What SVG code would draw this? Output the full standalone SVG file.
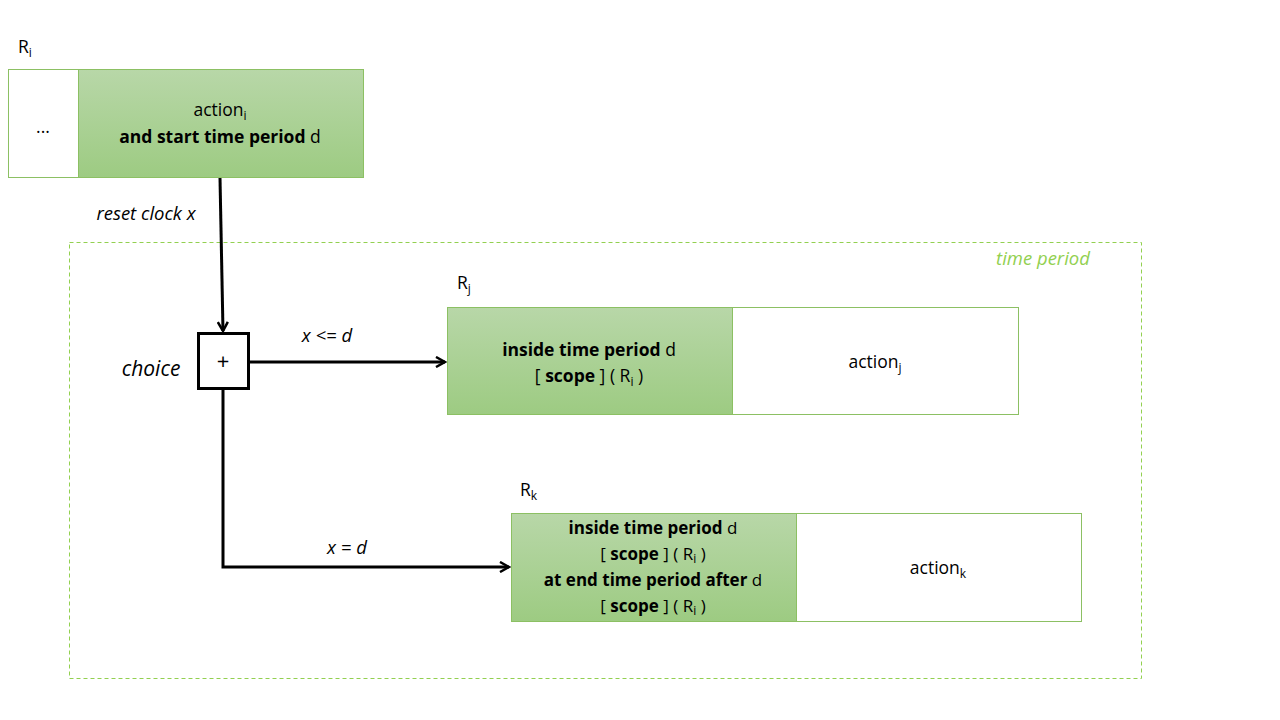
<svg xmlns="http://www.w3.org/2000/svg" width="1280" height="720" viewBox="0 0 1280 720">
<defs>
<linearGradient id="g" x1="0" y1="0" x2="0" y2="1">
<stop offset="0" stop-color="#b8d7a8"/>
<stop offset="1" stop-color="#9dcb82"/>
</linearGradient>
<marker id="arr" markerWidth="12" markerHeight="12" refX="10" refY="6" orient="auto" markerUnits="userSpaceOnUse">
<path d="M1,1 L10,6 L1,11" fill="none" stroke="#000" stroke-width="2.5"/>
</marker>
</defs>
<style>
text{font-family:"Open Sans","Liberation Sans",Arial,sans-serif;font-size:17.5px;fill:#000}
.c{text-anchor:middle}
.b{font-weight:bold}
.i{font-style:italic}
.lab{font-size:18.5px}
.sub{font-size:12px}
.k{font-size:17px}
.green{fill:url(#g);stroke:#8cc063;stroke-width:1}
.white{fill:#fff;stroke:#8cc063;stroke-width:1}
.conn{fill:none;stroke:#000;stroke-width:3}
</style>
<rect width="1280" height="720" fill="#fff"/>

<g id="period">
<rect x="69.5" y="242.5" width="1072" height="436" fill="none" stroke="#92d050" stroke-width="1" stroke-dasharray="4,3"/>
<text x="1043" y="265" class="c i" style="fill:#92d050;font-size:18.5px">time period</text>
</g>

<g id="Ri">
<text x="18" y="53">R<tspan class="sub" dy="4">i</tspan></text>
<rect class="white" x="8.5" y="69.5" width="70" height="108"/>
<text x="43" y="133" class="c">...</text>
<rect class="green" x="78.5" y="69.5" width="285" height="108"/>
<text x="220" y="116" class="c">action<tspan class="sub" dy="4">i</tspan></text>
<text x="220" y="143" class="c"><tspan class="b">and start time period</tspan> d</text>
</g>

<g id="choice">
<rect x="198.5" y="333.5" width="50" height="55" fill="#fff" stroke="#000" stroke-width="3"/>
<text x="223" y="369" class="c" style="font-size:22px">+</text>
<text x="151" y="376" class="c i" style="font-size:21px">choice</text>
</g>

<g id="Rj">
<text x="457" y="289">R<tspan class="sub" dy="4">j</tspan></text>
<rect class="green" x="447.5" y="307.5" width="285" height="107"/>
<rect class="white" x="732.5" y="307.5" width="286" height="107"/>
<text x="589" y="356" class="c"><tspan class="b">inside time period</tspan> d</text>
<text x="589" y="382" class="c">[ <tspan class="b">scope</tspan> ] ( R<tspan class="sub" dy="4">i</tspan><tspan dy="-4"> )</tspan></text>
<text x="875" y="368" class="c">action<tspan class="sub" dy="4">j</tspan></text>
</g>

<g id="Rk">
<text x="520" y="496">R<tspan class="sub" dy="4">k</tspan></text>
<rect class="green" x="511.5" y="513.5" width="285" height="108"/>
<rect class="white" x="796.5" y="513.5" width="285" height="108"/>
<text x="653" y="534" class="c k"><tspan class="b">inside time period</tspan> d</text>
<text x="653" y="560" class="c k">[ <tspan class="b">scope</tspan> ] ( R<tspan class="sub" dy="2.5">i</tspan><tspan dy="-2.5"> )</tspan></text>
<text x="653" y="586" class="c k"><tspan class="b">at end time period after</tspan> d</text>
<text x="653" y="612" class="c k">[ <tspan class="b">scope</tspan> ] ( R<tspan class="sub" dy="2.5">i</tspan><tspan dy="-2.5"> )</tspan></text>
<text x="938" y="574" class="c">action<tspan class="sub" dy="4">k</tspan></text>
</g>

<g id="connectors">
<path class="conn" d="M220,178 L223,331" marker-end="url(#arr)"/>
<text x="146" y="220" class="c i lab">reset clock x</text>
<path class="conn" d="M249,362 L445,362" marker-end="url(#arr)"/>
<text x="327" y="342" class="c i lab">x &lt;= d</text>
<path class="conn" d="M223,390 L223,567 L509,567" marker-end="url(#arr)"/>
<text x="347" y="554" class="c i lab">x = d</text>
</g>
</svg>
